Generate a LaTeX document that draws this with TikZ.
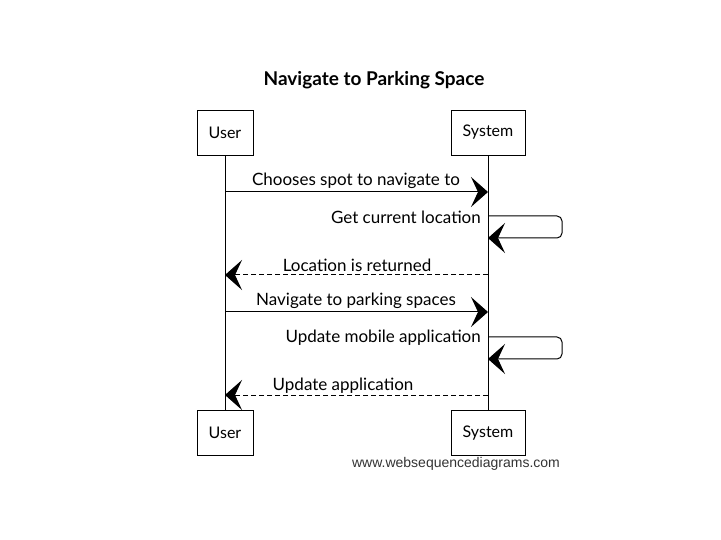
\documentclass[tikz,border=0pt]{standalone}
\usepackage{fontspec}
\setmainfont{Lato}
\newfontfamily\footfont{Liberation Sans}
\usetikzlibrary{arrows.meta}
\begin{document}
\begin{tikzpicture}[x=1pt,y=-1pt,
  actor/.style={draw,line width=0.9pt,minimum width=56pt,minimum height=45pt,font=\fontsize{16}{18}\selectfont,inner sep=0pt},
  sysactor/.style={actor,minimum width=74pt},
  life/.style={line width=0.8pt},
  msg/.style={line width=1pt,-{Stealth[length=17pt,width=30pt,inset=7pt]}},
  ret/.style={msg,dashed,dash pattern=on 5pt off 3pt},
  lbl/.style={font=\fontsize{17}{19}\selectfont,inner sep=1pt}]
\useasboundingbox (0,0) rectangle (721,540);
\node[font=\bfseries\fontsize{19}{22}\selectfont] (title) at (374,80) {Navigate to Parking Space};
\node[actor] (u1) at (225,132.5) {User};
\node[sysactor] (s1) at (488,132.5) {System};
\node[actor] (u2) at (225,433) {User};
\node[sysactor] (s2) at (488,433) {System};
\draw[life] (u1.south) -- (u2.north);
\draw[life] (s1.south) -- (s2.north);
% message 1
\coordinate (a1) at (u1.south |- 0,192);
\coordinate (b1) at (s1.south |- 0,192);
\draw[msg] (a1) -- (b1);
\node[lbl] (m1) at (356,181) {Chooses spot to navigate to};
% self 1
\coordinate (c1) at (s1.south |- 0,216);
\coordinate (c2) at (562,216);
\coordinate (c3) at (562,238);
\coordinate (c4) at (s1.south |- 0,238);
\draw[msg,rounded corners=5pt] (c1) -- (c2) -- (c3) -- (c4);
\node[lbl,anchor=east] (m2) at (482,217) {Get current location};
% message 3
\coordinate (a3) at (s1.south |- 0,275);
\coordinate (b3) at (u1.south |- 0,275);
\draw[ret] (a3) -- (b3);
\node[lbl] (m3) at (357,265) {Location is returned};
% message 4
\coordinate (a4) at (u1.south |- 0,312);
\coordinate (b4) at (s1.south |- 0,312);
\draw[msg] (a4) -- (b4);
\node[lbl] (m4) at (356,301) {Navigate to parking spaces};
% self 2
\coordinate (d1) at (s1.south |- 0,337);
\coordinate (d2) at (562,337);
\coordinate (d3) at (562,359);
\coordinate (d4) at (s1.south |- 0,359);
\draw[msg,rounded corners=5pt] (d1) -- (d2) -- (d3) -- (d4);
\node[lbl,anchor=east] (m5) at (482,338) {Update mobile application};
% message 6
\coordinate (a6) at (s1.south |- 0,395);
\coordinate (b6) at (u1.south |- 0,395);
\draw[ret] (a6) -- (b6);
\node[lbl] (m6) at (343,386) {Update application};
\node[font=\footfont\fontsize{14}{16}\selectfont,text=black!80] (foot) at (456,464) {www.websequencediagrams.com};
\end{tikzpicture}
\end{document}
